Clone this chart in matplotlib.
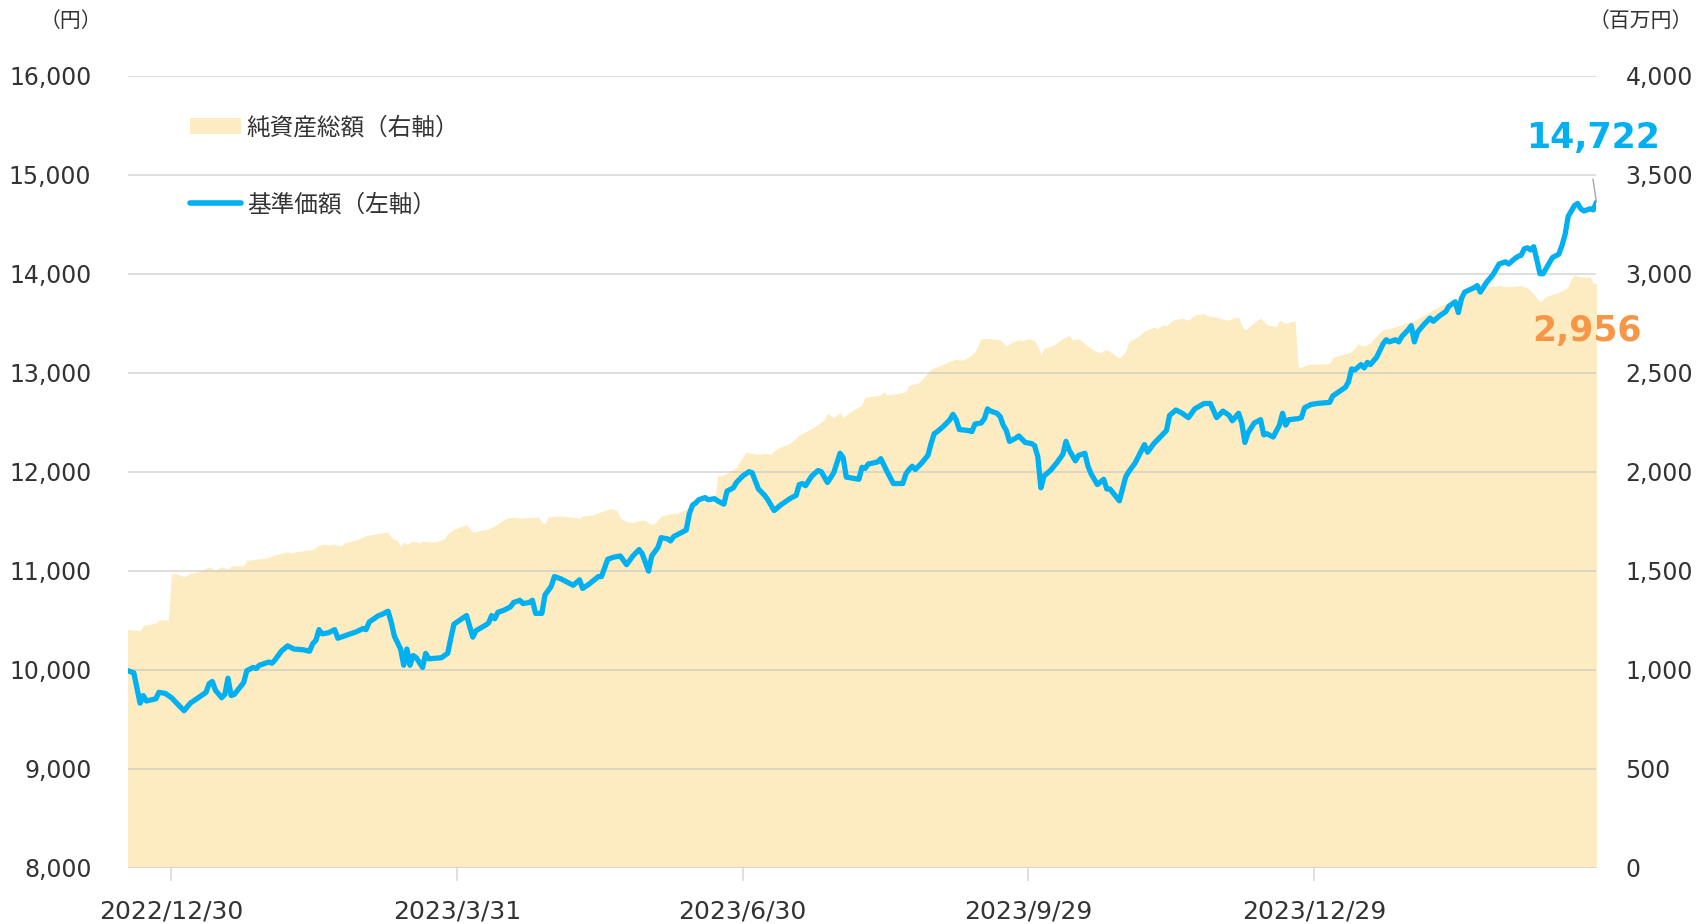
import matplotlib
matplotlib.use('Agg')
import matplotlib.pyplot as plt
import matplotlib.dates as mdates
import pandas as pd
from matplotlib.patches import Patch
from matplotlib.lines import Line2D
from matplotlib.ticker import FuncFormatter, FixedLocator, MultipleLocator
from matplotlib.font_manager import FontProperties

# dates are stored as days counted from 2022/12/30
base_date = pd.Timestamp('2022-12-30')

# 基準価額 (left axis, 円)
nav_day = [-14, -12, -10, -9, -8, -5, -4, -2, 0, 2, 4, 6, 9, 11, 12, 13, 14, 16, 17, 18,
           19, 20, 23, 24, 26, 27, 28, 31, 32, 33, 35, 37, 39, 42, 44, 45, 46, 47, 48, 50,
           52, 53, 55, 59, 61, 62, 63, 66, 67, 69, 70, 71, 73, 74, 75, 76, 77, 78, 80, 81,
           82, 86, 88, 89, 90, 93, 94, 96, 97, 100, 101, 102, 103, 104, 106, 108, 109, 111, 112, 114,
           115, 116, 118, 119, 121, 122, 124, 128, 130, 131, 133, 136, 137, 139, 141, 143, 145, 147, 149, 150,
           152, 153, 155, 156, 158, 159, 160, 162, 164, 165, 166, 167, 168, 170, 171, 173, 174, 176, 177, 179,
           180, 182, 184, 185, 187, 189, 190, 192, 194, 197, 199, 200, 201, 202, 204, 206, 207, 208, 209, 211,
           212, 213, 214, 215, 219, 220, 221, 222, 225, 226, 227, 228, 230, 233, 234, 235, 236, 237, 239, 241,
           242, 243, 244, 246, 248, 249, 250, 251, 254, 255, 256, 258, 259, 260, 261, 263, 264, 265, 266, 267,
           269, 270, 271, 272, 274, 275, 276, 277, 278, 280, 282, 284, 285, 286, 288, 289, 291, 292, 293, 295,
           297, 298, 299, 302, 304, 305, 307, 310, 311, 313, 315, 317, 318, 320, 322, 324, 326, 329, 331, 333,
           335, 337, 338, 340, 341, 342, 343, 345, 347, 348, 349, 351, 353, 354, 355, 356, 359, 360, 361, 363,
           365, 369, 370, 372, 374, 375, 376, 377, 379, 380, 381, 382, 384, 386, 387, 388, 390, 391, 392, 394,
           395, 396, 397, 399, 401, 402, 404, 406, 407, 409, 410, 411, 412, 415, 416, 417, 419, 421, 423, 424,
           425, 426, 428, 429, 430, 431, 432, 433, 434, 435, 436, 437, 439, 440, 442, 443, 444, 445, 447, 448,
           449, 450, 452, 453, 454]
nav = [9990, 9967, 9661, 9738, 9683, 9705, 9770, 9760, 9716, 9650, 9585, 9661, 9727, 9770, 9858, 9880, 9792, 9716, 9749, 9913,
       9738, 9749, 9869, 9989, 10022, 10011, 10044, 10076, 10065, 10098, 10186, 10240, 10208, 10200, 10186, 10262, 10295, 10404, 10361, 10372,
       10404, 10317, 10339, 10383, 10415, 10404, 10481, 10546, 10557, 10590, 10481, 10339, 10208, 10044, 10208, 10044, 10142, 10120, 10022, 10164,
       10109, 10120, 10164, 10317, 10459, 10525, 10546, 10328, 10393, 10448, 10470, 10546, 10514, 10579, 10601, 10634, 10678, 10700, 10667, 10678,
       10700, 10568, 10568, 10754, 10842, 10940, 10918, 10852, 10907, 10820, 10863, 10940, 10940, 11115, 11137, 11148, 11060, 11148, 11213, 11169,
       10995, 11148, 11235, 11333, 11322, 11300, 11344, 11377, 11410, 11574, 11661, 11683, 11716, 11738, 11716, 11727, 11705, 11672, 11803, 11836,
       11891, 11956, 12000, 11989, 11825, 11760, 11716, 11607, 11661, 11727, 11760, 11869, 11880, 11858, 11956, 12011, 12000, 11945, 11891, 11989,
       12087, 12186, 12142, 11945, 11923, 12044, 12033, 12077, 12098, 12131, 12066, 12000, 11880, 11880, 11978, 12022, 12055, 12022, 12087, 12164,
       12284, 12383, 12405, 12459, 12525, 12579, 12525, 12426, 12415, 12405, 12481, 12492, 12536, 12634, 12612, 12590, 12557, 12470, 12415, 12306,
       12339, 12361, 12328, 12295, 12284, 12262, 12153, 11836, 11956, 12011, 12087, 12175, 12306, 12219, 12109, 12164, 12186, 12055, 11978, 11869,
       11923, 11825, 11825, 11705, 11945, 12000, 12087, 12273, 12197, 12284, 12350, 12415, 12568, 12623, 12590, 12546, 12634, 12689, 12689, 12546,
       12612, 12568, 12514, 12590, 12492, 12295, 12393, 12492, 12525, 12372, 12383, 12350, 12470, 12590, 12470, 12525, 12536, 12546, 12645, 12678,
       12689, 12700, 12765, 12809, 12852, 12907, 13038, 13027, 13082, 13049, 13104, 13082, 13158, 13290, 13333, 13311, 13333, 13311, 13366, 13432,
       13475, 13311, 13410, 13486, 13552, 13519, 13574, 13617, 13672, 13716, 13607, 13749, 13814, 13858, 13880, 13814, 13913, 13989, 14098, 14109,
       14120, 14098, 14153, 14175, 14186, 14251, 14262, 14240, 14273, 14142, 14000, 14000, 14109, 14164, 14197, 14284, 14393, 14579, 14689, 14710,
       14656, 14634, 14656, 14645, 14722]

# 純資産総額 (right axis, 百万円)
aum_day = [-14, -10, -9, -7, -5, -4, -1, 0, 1, 4, 6, 9, 12, 14, 16, 18, 19, 23, 24, 26,
           30, 33, 37, 38, 42, 45, 47, 49, 50, 52, 54, 55, 59, 62, 66, 69, 70, 72, 73, 74,
           75, 77, 79, 80, 82, 84, 87, 88, 90, 92, 94, 96, 99, 101, 103, 105, 107, 109, 111, 116,
           117, 118, 119, 120, 124, 130, 131, 134, 137, 140, 142, 143, 145, 147, 149, 151, 153, 154, 156, 159,
           162, 166, 169, 173, 174, 176, 180, 181, 183, 187, 189, 191, 192, 194, 197, 200, 204, 206, 208, 209,
           211, 213, 214, 216, 218, 220, 221, 224, 226, 227, 228, 231, 234, 235, 238, 240, 242, 245, 248, 250,
           252, 254, 256, 258, 261, 264, 266, 268, 270, 271, 273, 275, 276, 277, 278, 281, 284, 286, 287, 289,
           292, 294, 296, 298, 299, 302, 304, 305, 308, 310, 313, 314, 316, 317, 319, 322, 324, 326, 329, 330,
           333, 335, 337, 338, 340, 341, 342, 345, 347, 349, 352, 353, 355, 357, 358, 359, 362, 369, 370, 374,
           376, 378, 380, 382, 384, 386, 390, 393, 396, 400, 404, 407, 410, 413, 416, 419, 423, 426, 430, 432,
           434, 436, 438, 440, 443, 445, 446, 447, 449, 451, 452, 453, 454]
aum = [1202, 1197, 1224, 1229, 1235, 1251, 1251, 1481, 1486, 1470, 1486, 1497, 1519, 1503, 1519, 1508, 1524, 1524, 1552, 1557,
       1563, 1579, 1595, 1590, 1601, 1606, 1628, 1634, 1628, 1634, 1623, 1639, 1656, 1677, 1688, 1694, 1667, 1650, 1623, 1645,
       1634, 1650, 1639, 1650, 1645, 1645, 1661, 1688, 1710, 1721, 1732, 1694, 1705, 1710, 1727, 1748, 1765, 1770, 1765, 1770,
       1770, 1743, 1738, 1770, 1776, 1765, 1776, 1781, 1798, 1814, 1803, 1765, 1748, 1743, 1754, 1754, 1732, 1738, 1776, 1787,
       1792, 1830, 1847, 1841, 1978, 1983, 2022, 2049, 2098, 2087, 2093, 2087, 2104, 2125, 2142, 2186, 2218, 2240, 2262, 2295,
       2273, 2300, 2273, 2300, 2317, 2339, 2377, 2382, 2388, 2404, 2388, 2393, 2404, 2437, 2448, 2481, 2519, 2535, 2557, 2568,
       2563, 2579, 2606, 2672, 2672, 2666, 2634, 2656, 2666, 2661, 2672, 2661, 2634, 2590, 2623, 2639, 2672, 2688, 2666, 2672,
       2634, 2612, 2601, 2617, 2606, 2574, 2606, 2656, 2683, 2710, 2732, 2721, 2743, 2737, 2765, 2776, 2765, 2792, 2798, 2787,
       2781, 2770, 2765, 2776, 2781, 2737, 2716, 2754, 2776, 2743, 2732, 2765, 2748, 2759, 2759, 2524, 2541, 2546, 2579, 2595,
       2606, 2645, 2634, 2650, 2688, 2716, 2732, 2748, 2765, 2798, 2836, 2852, 2880, 2918, 2929, 2934, 2940, 2934, 2940, 2929,
       2896, 2858, 2885, 2896, 2912, 2934, 2972, 2994, 2983, 2983, 2983, 2951, 2956]

tick_dates = ['2022-12-30', '2023-03-31', '2023-06-30', '2023-09-29', '2023-12-29']
tick_labels = ['2022/12/30', '2023/3/31', '2023/6/30', '2023/9/29', '2023/12/29']

nav_label = '基準価額（左軸）'
aum_label = '純資産総額（右軸）'

line_color = '#00B0F0'
area_color = '#FDECC1'
grid_color = '#BFBFBF'
text_color = '#333333'
jp = ['Noto Sans CJK JP', 'DejaVu Sans']

nav_dates = base_date + pd.to_timedelta(nav_day, unit='D')
aum_dates = base_date + pd.to_timedelta(aum_day, unit='D')

fig = plt.figure(figsize=(16.96, 9.24), dpi=100)
ax = fig.add_axes([0.0752, 0.0611, 0.8661, 0.8569])
ax2 = ax.twinx()

# area on the back axis, line on the front one
ax.set_zorder(ax2.get_zorder() + 1)
ax.patch.set_visible(False)

ax2.fill_between(aum_dates, aum, 0, color=area_color, lw=0, zorder=1)
ax.plot(nav_dates, nav, color=line_color, lw=3.8,
        solid_joinstyle='round', solid_capstyle='round', zorder=3)

ax.set_xlim(nav_dates[0], nav_dates[-1])
ax.set_ylim(8000, 16000)
ax2.set_ylim(0, 4000)

ax.yaxis.set_major_locator(MultipleLocator(1000))
ax2.yaxis.set_major_locator(MultipleLocator(500))
fmt = FuncFormatter(lambda v, p: f'{int(v):,}')
ax.yaxis.set_major_formatter(fmt)
ax2.yaxis.set_major_formatter(fmt)

tick_pos = mdates.date2num(pd.to_datetime(tick_dates))
ax.xaxis.set_major_locator(FixedLocator(tick_pos))
ax.set_xticklabels(tick_labels)
ax2.xaxis.set_major_locator(FixedLocator(tick_pos))

# grid lines drawn over the area, under the line
ax2.set_axisbelow(False)
ax2.grid(True, axis='both', color=grid_color, alpha=0.6, lw=1.2, zorder=2)
ax.grid(False)

for a in (ax, ax2):
    for s in a.spines.values():
        s.set_visible(False)

ax.tick_params(axis='y', length=0, pad=26, labelsize=17, labelcolor=text_color)
ax2.tick_params(axis='y', length=0, pad=21, labelsize=17, labelcolor=text_color)
ax.tick_params(axis='x', length=9, width=1.2, color='#D9D9D9', pad=14,
               labelsize=18, labelcolor=text_color)
ax2.tick_params(axis='x', length=0)

# unit labels
fig.text(0.0415, 0.977, '（円）', fontsize=15, color=text_color, family=jp,
         ha='center', va='center')
fig.text(0.998, 0.977, '（百万円）', fontsize=15, color=text_color, family=jp,
         ha='right', va='center')

# legend
handles = [Patch(facecolor=area_color, edgecolor='none'),
           Line2D([], [], color=line_color, lw=4, solid_capstyle='round')]
ax.legend(handles, [aum_label, nav_label], loc='upper left',
          bbox_to_anchor=(0.0425, 0.949), frameon=False, borderpad=0,
          borderaxespad=0, handlelength=2.15, handletextpad=0.25,
          labelspacing=2.3, prop=FontProperties(family=jp, size=17),
          labelcolor=text_color)

# latest values
ax.annotate('', xy=(nav_dates[-1], nav[-1]), xytext=(-2.5, 16.6),
            textcoords='offset points',
            arrowprops=dict(arrowstyle='-', color='#A6A6A6', lw=1,
                            shrinkA=0, shrinkB=0))
ax.annotate(f'{nav[-1]:,}', xy=(nav_dates[-1], nav[-1]), xytext=(-2.5, 46),
            textcoords='offset points', ha='center', va='center',
            fontsize=25, fontweight='bold', color=line_color,
            annotation_clip=False)
ax2.annotate(f'{aum[-1]:,}', xy=(aum_dates[-1], aum[-1]), xytext=(-7, -35),
             textcoords='offset points', ha='center', va='center',
             fontsize=25, fontweight='bold', color='#F79646',
             annotation_clip=False)

fig.savefig('out.png', dpi=100)
